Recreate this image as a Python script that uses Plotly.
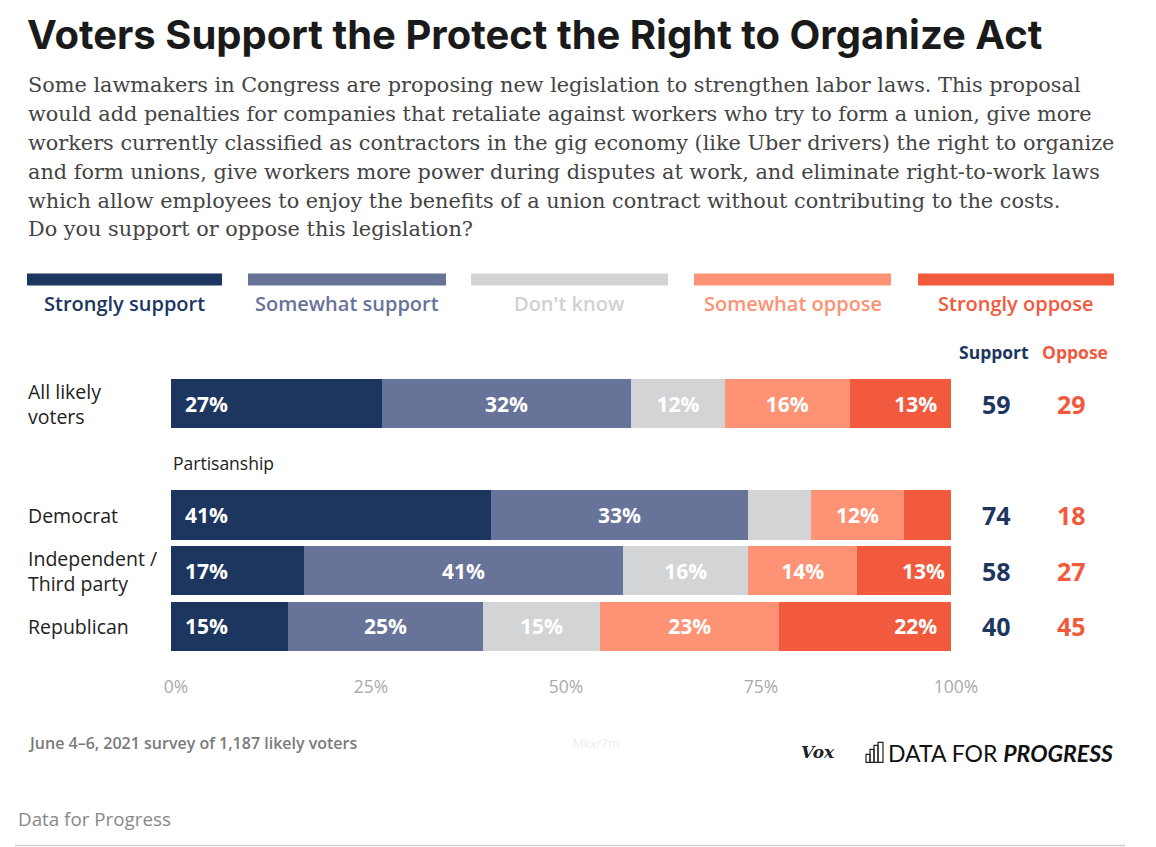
import plotly.graph_objects as go

# Survey data (percent of respondents)
groups = ['All likely<br>voters', 'Democrat', 'Independent /<br>Third party', 'Republican']
row_keys = ['All likely voters', 'Democrat', 'Independent', 'Republican']
responses = ['Strongly support', 'Somewhat support', "Don't know", 'Somewhat oppose', 'Strongly oppose']
strongly_support = [27, 41, 17, 15]
somewhat_support = [32, 33, 41, 25]
dont_know = [12, 8, 16, 15]
somewhat_oppose = [16, 12, 14, 23]
strongly_oppose = [13, 6, 13, 22]
support_totals = [59, 74, 58, 40]
oppose_totals = [29, 18, 27, 45]
tick_vals = [0, 25, 50, 75, 100]
tick_text = ['0%', '25%', '50%', '75%', '100%']

colors = ['#1c365f', '#68739a', '#d3d4d6', '#fd9274', '#f15a3d']
legend_text_colors = ['#1c365f', '#68739a', '#d0d1d3', '#fd9274', '#f15a3d']

title = 'Voters Support the Protect the Right to Organize Act'
subtitle_lines = [
    'Some lawmakers in Congress are proposing new legislation to strengthen labor laws. This proposal',
    'would add penalties for companies that retaliate against workers who try to form a union, give more',
    'workers currently classified as contractors in the gig economy (like Uber drivers) the right to organize',
    'and form unions, give workers more power during disputes at work, and eliminate right-to-work laws',
    'which allow employees to enjoy the benefits of a union contract without contributing to the costs.',
    'Do you support or oppose this legislation?',
]

W, H = 1156, 847
OFF = 8  # page offset of the figure in the browser window
PX0, PX1 = 171, 951
PY0, PY1 = 376.25, 653.75


def px(x):
    return (x - PX0) / (PX1 - PX0)


def py(y):
    return (PY1 - y) / (PY1 - PY0)


FONT = 'Open Sans'
category_order = [row_keys[0], ' ', row_keys[1], row_keys[2], row_keys[3]]

fig = go.Figure()
series = [strongly_support, somewhat_support, dont_know, somewhat_oppose, strongly_oppose]
anchors = ['start', 'middle', 'middle', 'middle', 'end']
pad = '\u00a0\u00a0'
for i, (name, vals) in enumerate(zip(responses, series)):
    labels = []
    for v in vals:
        if v < 10:
            labels.append('')
        elif anchors[i] == 'start':
            labels.append(pad + f'{v}%')
        elif anchors[i] == 'end':
            labels.append(f'{v}%' + pad)
        else:
            labels.append(f'{v}%')
    fig.add_trace(go.Bar(
        x=vals, y=row_keys, orientation='h', name=name,
        marker=dict(color=colors[i], line=dict(width=0)),
        text=labels, textposition='inside', insidetextanchor=anchors[i],
        textfont=dict(family=FONT, size=21, color='white', weight='bold'),
        textangle=0, hoverinfo='skip', showlegend=False,
    ))

fig.update_layout(
    width=W, height=H,
    barmode='stack', bargap=0.117,
    plot_bgcolor='white', paper_bgcolor='white',
    margin=dict(l=PX0 - OFF, r=W - PX1 + OFF, t=PY0 - OFF, b=H - PY1 + OFF, pad=0),
    font=dict(family=FONT, color='#222'),
    uniformtext=dict(minsize=8, mode='show'),
    xaxis=dict(range=[0, 100], tickvals=tick_vals, ticktext=tick_text, showgrid=False,
               zeroline=False, showline=False, ticks='', ticklabelstandoff=20, ticklabelshift=5,
               tickfont=dict(family=FONT, size=17.5, color='#aaaaaa'), fixedrange=True),
    yaxis=dict(categoryorder='array', categoryarray=category_order[::-1], autorange=False,
               range=[-0.5, 4.5], showticklabels=False, showgrid=False, zeroline=False,
               showline=False, fixedrange=True),
)

ann = []
# Title and subtitle
ann.append(dict(text=f'<b>{title}</b>', x=px(25), y=py(35), xref='paper', yref='paper',
                xanchor='left', yanchor='middle', showarrow=False,
                font=dict(family='Inter', size=40, color='#1a1a1a')))
for k, line in enumerate(subtitle_lines):
    ann.append(dict(text=line, x=px(26), y=py(86 + 28.8 * k), xref='paper', yref='paper',
                    xanchor='left', yanchor='middle', showarrow=False,
                    font=dict(family='DejaVu Serif', size=20.8, color='#444')))

# Legend bars and labels
legend_x = [(27, 222), (248, 446), (471, 668), (694, 891), (918, 1114)]
shapes = []
for i, (a, b) in enumerate(legend_x):
    shapes.append(dict(type='rect', xref='paper', yref='paper', x0=px(a), x1=px(b),
                       y0=py(286), y1=py(274), fillcolor=colors[i], line=dict(width=0)))
    ann.append(dict(text=responses[i], x=px((a + b) / 2), y=py(304), xref='paper', yref='paper',
                    xanchor='center', yanchor='middle', showarrow=False,
                    font=dict(family=FONT, size=20, color=legend_text_colors[i], weight=600)))

# Row labels
for g, key in zip(groups, row_keys):
    ann.append(dict(text=g, x=px(26), y=key, xref='paper', yref='y', xanchor='left',
                    yanchor='middle', align='left', showarrow=False,
                    font=dict(family=FONT, size=19.5, color='#222')))
ann.append(dict(text='Partisanship', x=0, y=' ', xref='paper', yref='y', xanchor='left',
                yanchor='middle', showarrow=False, yshift=-4,
                font=dict(family=FONT, size=17.5, color='#222')))

# Support / Oppose totals
ann.append(dict(text='<b>Support</b>', x=px(994), y=py(352), xref='paper', yref='paper',
                xanchor='center', yanchor='middle', showarrow=False,
                font=dict(family=FONT, size=17.5, color=colors[0])))
ann.append(dict(text='<b>Oppose</b>', x=px(1075), y=py(352), xref='paper', yref='paper',
                xanchor='center', yanchor='middle', showarrow=False,
                font=dict(family=FONT, size=17.5, color=colors[4])))
for key, s, o in zip(row_keys, support_totals, oppose_totals):
    ann.append(dict(text=f'<b>{s}</b>', x=px(996), y=key, xref='paper', yref='y',
                    xanchor='center', yanchor='middle', showarrow=False,
                    font=dict(family=FONT, size=25, color=colors[0])))
    ann.append(dict(text=f'<b>{o}</b>', x=px(1071), y=key, xref='paper', yref='y',
                    xanchor='center', yanchor='middle', showarrow=False,
                    font=dict(family=FONT, size=25, color=colors[4])))

# Footer
ann.append(dict(text='June 4–6, 2021 survey of 1,187 likely voters', x=px(26), y=py(743),
                xref='paper', yref='paper', xanchor='left', yanchor='middle', showarrow=False,
                font=dict(family=FONT, size=16, color='#7a7a7a', weight=600)))
ann.append(dict(text='Mkxr7m', x=px(596), y=py(743), xref='paper', yref='paper',
                xanchor='center', yanchor='middle', showarrow=False,
                font=dict(family=FONT, size=12, color='#ececec')))
ann.append(dict(text='<b><i>Vox</i></b>', x=px(818), y=py(752), xref='paper', yref='paper',
                xanchor='center', yanchor='middle', showarrow=False,
                font=dict(family='DejaVu Serif', size=17, color='#222')))
ann.append(dict(text='DATA FOR <b><i>PROGRESS</i></b>', x=px(1115), y=py(753), xref='paper',
                yref='paper', xanchor='right', yanchor='middle', showarrow=False,
                font=dict(family='Lato', size=23, color='#111')))
ann.append(dict(text='Data for Progress', x=px(16), y=py(818), xref='paper', yref='paper',
                xanchor='left', yanchor='middle', showarrow=False,
                font=dict(family=FONT, size=18.8, color='#888')))

# little bar icon of the logo
icon_bars = [(866, 870, 754), (870, 874, 749), (874, 878, 745), (878, 883, 742)]
for a, b, top in icon_bars:
    shapes.append(dict(type='rect', xref='paper', yref='paper', x0=px(a), x1=px(b),
                       y0=py(762), y1=py(top), line=dict(color='#222', width=1.2)))
# bottom separator
shapes.append(dict(type='line', xref='paper', yref='paper', x0=px(15), x1=px(1125),
                   y0=py(845), y1=py(845), line=dict(color='#cfcfcf', width=1.5)))

fig.update_layout(annotations=ann, shapes=shapes)

fig.write_html('out.html')
